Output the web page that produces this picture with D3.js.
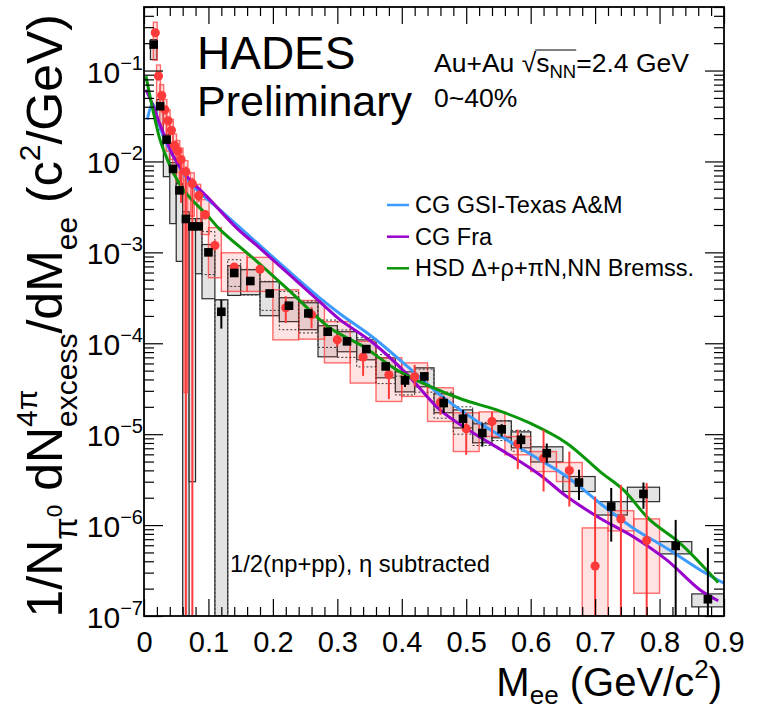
<!DOCTYPE html>
<html>
<head>
<meta charset="utf-8">
<script src="https://cdn.jsdelivr.net/npm/d3@7"></script>
<style>
  body { margin: 0; background: #fff; }
  svg { display: block; }
  text { font-family: "Liberation Sans", Arial, Helvetica, sans-serif; fill: #000; }
</style>
</head>
<body>
<svg id="chart" width="761" height="711"></svg>
<script>
// ---------------- data ----------------
// HADES excess spectrum (black squares): bin centres, bin edges, values, stat and syst errors
const blackX = [0.015,0.025,0.035,0.045,0.055,0.065,0.075,0.085,0.10,0.12,0.14,0.165,0.195,0.225,0.255,0.285,0.315,0.345,0.375,0.405,0.435,0.465,0.495,0.525,0.555,0.585,0.625,0.675,0.725,0.775,0.825,0.875];
const blackEdges = [0.01,0.02,0.03,0.04,0.05,0.06,0.07,0.08,0.09,0.11,0.13,0.15,0.18,0.21,0.24,0.27,0.30,0.33,0.36,0.39,0.42,0.45,0.48,0.51,0.54,0.57,0.60,0.65,0.70,0.75,0.80,0.85,0.90];
const blackY = [0.193,0.0405,0.0174,0.00828,0.00481,0.00233,0.00193,0.00193,0.00100,2.22e-4,5.93e-4,4.84e-4,3.53e-4,2.59e-4,2.13e-4,1.34e-4,1.05e-4,8.63e-5,5.56e-5,3.90e-5,4.32e-5,2.20e-5,1.48e-5,1.03e-5,1.13e-5,8.67e-6,6.18e-6,2.94e-6,1.60e-6,2.20e-6,5.90e-7,1.53e-7];
const blackStatHi = [0.205,0.043,0.0184,0.0088,0.0051,0.00248,0.00205,0.00205,0.00106,3.01e-4,6.3e-4,5.1e-4,3.75e-4,2.75e-4,2.3e-4,1.44e-4,1.13e-4,9.5e-5,6.0e-5,4.5e-5,4.8e-5,2.6e-5,1.85e-5,1.32e-5,1.29e-5,1.02e-5,7.9e-6,4.05e-6,2.56e-6,2.94e-6,1.14e-6,5.61e-7];
const blackStatLo = [0.181,0.038,0.0164,0.0078,0.0045,0.00218,0.00181,0.00181,0.00094,1.45e-4,5.6e-4,4.6e-4,3.3e-4,2.45e-4,1.95e-4,1.24e-4,9.7e-5,7.8e-5,5.1e-5,3.3e-5,3.8e-5,1.71e-5,1.16e-5,7.3e-6,9.4e-6,6.9e-6,4.8e-6,1.89e-6,6.58e-7,1.51e-6,1e-8,1e-8];
const blackSysHi = [0.219,0.048,0.0198,0.0097,0.0057,0.0028,0.00235,0.00235,0.00122,3.01e-4,7.13e-4,6.44e-4,4.75e-4,3.17e-4,2.79e-4,1.56e-4,1.34e-4,1.09e-4,6.92e-5,4.85e-5,5.37e-5,2.78e-5,1.85e-5,1.30e-5,1.40e-5,1.06e-5,7.26e-6,3.42e-6,1.81e-6,2.61e-6,6.58e-7,1.75e-7];
const blackSysLo = [0.132,0.0224,0.0068,0.00207,7.96e-4,1e-8,3.0e-6,5.82e-4,3.09e-4,1e-8,3.36e-4,3.42e-4,2.01e-4,1.73e-4,1.41e-4,7.1e-5,8.07e-5,6.58e-5,4.17e-5,2.92e-5,3.32e-5,1.72e-5,1.17e-5,8.04e-6,9.12e-6,7.08e-6,4.95e-6,2.34e-6,1.29e-6,1.81e-6,4.82e-7,1.26e-7];
// second systematic band (dotted), null where not shown
const blackDotHi = [null,null,null,null,null,null,null,null,1.69e-3,3.0e-4,8.3e-4,6.5e-4,4.8e-4,3.72e-4,2.9e-4,1.8e-4,1.4e-4,1.15e-4,7.5e-5,4.35e-5,5.2e-5,2.9e-5,2.0e-5,1.35e-5,1.4e-5,1.1e-5,null,null,null,null,null,null];
const blackDotLo = [null,null,null,null,null,null,null,null,5.7e-4,1e-8,4.22e-4,3.4e-4,2.3e-4,1.41e-4,1.3e-4,9.0e-5,7.0e-5,5.5e-5,3.6e-5,2.7e-5,2.9e-5,1.5e-5,1.0e-5,7.5e-6,8.5e-6,6.5e-6,null,null,null,null,null,null];

// reference spectrum (red circles)
const redX = [0.0175,0.0225,0.0275,0.0325,0.0375,0.0425,0.0475,0.0525,0.0575,0.065,0.075,0.085,0.095,0.11,0.14,0.18,0.22,0.26,0.30,0.34,0.38,0.42,0.46,0.50,0.54,0.58,0.62,0.66,0.70,0.74,0.78];
const redHalfWidth = [0.003,0.003,0.003,0.003,0.003,0.003,0.003,0.003,0.003,0.003,0.003,0.003,0.006,0.01,0.02,0.02,0.02,0.02,0.02,0.02,0.02,0.02,0.02,0.02,0.02,0.02,0.02,0.02,0.02,0.02,0.02];
const redY = [0.26,0.087,0.053,0.037,0.028,0.022,0.015,0.013,0.0105,0.0077,0.0057,0.0042,0.0026,0.00119,6.9e-4,6.5e-4,2.46e-4,2.06e-4,1.09e-4,7.05e-5,4.5e-5,4.27e-5,2.25e-5,1.15e-5,1.38e-5,7.84e-6,5.45e-6,3.98e-6,3.55e-7,1.17e-6,6.75e-7];
const redStatHi = [0.29,0.096,0.058,0.041,0.031,0.0245,0.0167,0.0145,0.0118,0.0088,0.0066,0.0048,0.0029,0.00135,7.6e-4,7.2e-4,3.3e-4,2.5e-4,1.25e-4,7.7e-5,4.9e-5,5.8e-5,2.6e-5,1.71e-5,1.77e-5,1.12e-5,1.12e-5,6.44e-6,2.06e-6,2.77e-6,2.9e-6];
const redStatLo = [0.235,0.079,0.048,0.033,0.025,0.0198,0.0135,0.0117,0.0035,1e-8,1e-8,0.0036,0.0023,0.00105,6.2e-4,5.8e-4,1.67e-4,1.46e-4,9.2e-5,4.38e-5,2.43e-5,3.35e-5,1.63e-5,5.93e-6,9.42e-6,4.12e-6,2.34e-6,1.6e-6,1e-8,1e-8,1e-8];
const redSysHi = [0.34,0.115,0.07,0.048,0.037,0.029,0.02,0.017,0.014,0.0102,0.0075,0.0056,0.0038,0.00187,9.9e-4,8.81e-4,3.88e-4,2.96e-4,1.73e-4,1.05e-4,6.92e-5,6.09e-5,3.24e-5,1.72e-5,1.76e-5,9.42e-6,6.44e-6,4.88e-6,9.31e-7,1.44e-6,1.17e-6];
const redSysLo = [0.13,0.042,0.026,0.018,0.013,0.0105,0.0072,0.006,0.0045,2.87e-5,0.0025,0.0019,0.00157,5.26e-4,3.72e-4,3.72e-4,1.09e-4,1.11e-4,6.09e-5,3.65e-5,2.29e-5,2.6e-5,1.38e-5,6.44e-6,9.42e-6,5.93e-6,3.88e-6,3.01e-6,1e-8,8.63e-7,1.78e-7];

// model curves
const blueX = [0.0051,0.0132,0.0197,0.03,0.0455,0.0714,0.1226,0.175,0.2266,0.278,0.304,0.356,0.4077,0.4593,0.511,0.5628,0.6145,0.656,0.7076,0.7593,0.811,0.863,0.9];
const blueY = [0.0289,0.0434,0.0314,0.0189,0.0114,0.0058,0.00274,1.28e-3,6.05e-4,2.94e-4,2.11e-4,1.15e-4,5.65e-5,2.71e-5,1.48e-5,8.67e-6,5.21e-6,3.42e-6,1.74e-6,9.25e-7,5.56e-7,3.21e-7,2.29e-7];
const purpleX = [0.0031,0.0144,0.0248,0.0352,0.0455,0.0663,0.0973,0.1439,0.175,0.2266,0.278,0.304,0.356,0.4077,0.4593,0.511,0.5628,0.6145,0.656,0.7076,0.7593,0.811,0.863,0.891];
const purpleY = [0.0618,0.0405,0.0255,0.0167,0.0114,0.00687,0.00413,0.00185,1.19e-3,5.61e-4,2.65e-4,1.82e-4,1.0e-4,4.61e-5,1.85e-5,1.03e-5,6.18e-6,3.56e-6,2.06e-6,1.19e-6,7.46e-7,4.14e-7,1.93e-7,1.47e-7];
const greenX = [0.0031,0.0093,0.0171,0.0248,0.0352,0.0455,0.061,0.0765,0.0973,0.118,0.175,0.2266,0.2886,0.3403,0.3921,0.4438,0.4955,0.5473,0.599,0.656,0.7076,0.744,0.785,0.832,0.891];
const greenY = [0.0865,0.0521,0.0289,0.0174,0.01094,0.00748,0.0049,0.00364,0.0026,0.00178,7.96e-4,3.72e-4,1.47e-4,9.23e-5,5.1e-5,3.35e-5,2.39e-5,1.85e-5,1.32e-5,7.96e-6,3.88e-6,2.44e-6,1.14e-6,6.31e-7,2.33e-7];

const legendLabels = ["CG GSI-Texas A&M", "CG Fra", "HSD \u0394+\u03c1+\u03c0N,NN Bremss."];
const xTickValues = [0,0.1,0.2,0.3,0.4,0.5,0.6,0.7,0.8,0.9];
const yDecades = [-7,-6,-5,-4,-3,-2,-1];

// ---------------- layout ----------------
const X0 = 144, X1 = 724, Y0 = 7, Y1 = 616;
const FONT = '"Liberation Sans", Arial, Helvetica, sans-serif';
const svg = d3.select("#chart");
const x = d3.scaleLinear().domain([0, 0.9]).range([X0, X1]);
const y = d3.scaleLog().domain([1e-7, 0.5]).range([Y1, Y0]).clamp(true);

svg.append("defs").append("clipPath").attr("id", "plotclip")
  .append("rect").attr("x", X0).attr("y", Y0).attr("width", X1 - X0).attr("height", Y1 - Y0);
const plot = svg.append("g").attr("clip-path", "url(#plotclip)");

const idx = d3.range(blackX.length);
const ridx = d3.range(redX.length);

// grey systematic boxes
plot.append("g").selectAll("rect").data(idx).join("rect")
  .attr("x", i => x(blackEdges[i]))
  .attr("width", i => x(blackEdges[i + 1]) - x(blackEdges[i]))
  .attr("y", i => y(blackSysHi[i]))
  .attr("height", i => y(blackSysLo[i]) - y(blackSysHi[i]))
  .attr("fill", "#e3e3e3").attr("stroke", "#2a2a2a").attr("stroke-width", 1.2);

// red systematic boxes
plot.append("g").selectAll("rect").data(ridx).join("rect")
  .attr("x", i => x(redX[i] - redHalfWidth[i]))
  .attr("width", i => x(redX[i] + redHalfWidth[i]) - x(redX[i] - redHalfWidth[i]))
  .attr("y", i => y(redSysHi[i]))
  .attr("height", i => y(redSysLo[i]) - y(redSysHi[i]))
  .attr("fill", "rgba(255,60,60,0.14)").attr("stroke", "rgba(255,60,60,0.75)").attr("stroke-width", 1.4);

// dotted boxes
plot.append("g").selectAll("rect").data(idx.filter(i => blackDotHi[i] !== null)).join("rect")
  .attr("x", i => x(blackEdges[i]))
  .attr("width", i => x(blackEdges[i + 1]) - x(blackEdges[i]))
  .attr("y", i => y(blackDotHi[i]))
  .attr("height", i => y(blackDotLo[i]) - y(blackDotHi[i]))
  .attr("fill", "none").attr("stroke", "#333").attr("stroke-width", 1).attr("stroke-dasharray", "2,2");

// model curves
const curves = [
  { xs: blueX, ys: blueY, color: "#3d9bff" },
  { xs: purpleX, ys: purpleY, color: "#9a00cc" },
  { xs: greenX, ys: greenY, color: "#0a960a" }
];
const line = d3.line().x(d => x(d[0])).y(d => y(d[1])).curve(d3.curveCatmullRom.alpha(0.5));
curves.forEach(c => {
  plot.append("path").datum(c.xs.map((v, i) => [v, c.ys[i]]))
    .attr("d", line).attr("fill", "none").attr("stroke", c.color)
    .attr("stroke-width", 3).attr("stroke-linejoin", "round");
});

// red points
plot.append("g").selectAll("line").data(ridx).join("line")
  .attr("x1", i => x(redX[i])).attr("x2", i => x(redX[i]))
  .attr("y1", i => y(redStatHi[i])).attr("y2", i => y(redStatLo[i]))
  .attr("stroke", "#ff3a3a").attr("stroke-width", 2);
plot.append("g").selectAll("circle").data(ridx).join("circle")
  .attr("cx", i => x(redX[i])).attr("cy", i => y(redY[i])).attr("r", 4.6)
  .attr("fill", "#ff3a3a");

// black points
plot.append("g").selectAll("line").data(idx).join("line")
  .attr("x1", i => x(blackX[i])).attr("x2", i => x(blackX[i]))
  .attr("y1", i => y(blackStatHi[i])).attr("y2", i => y(blackStatLo[i]))
  .attr("stroke", "#000").attr("stroke-width", 2);
plot.append("g").selectAll("rect").data(idx).join("rect")
  .attr("x", i => x(blackX[i]) - 4.3).attr("y", i => y(blackY[i]) - 4.3)
  .attr("width", 8.6).attr("height", 8.6).attr("fill", "#000");

// ---------------- axes ----------------
const xMinor = d3.range(0, 0.9001, 0.02).filter(v => xTickValues.every(t => Math.abs(t - v) > 1e-6));
const yMinor = [];
yDecades.forEach(d => { for (let k = 2; k <= 9; k++) { const v = k * Math.pow(10, d); if (v <= 0.5) yMinor.push(v); } });
const yMajor = yDecades.map(d => Math.pow(10, d));

function styleAxis(g) {
  g.select(".domain").remove();
  g.selectAll(".tick line").attr("stroke", "#000").attr("stroke-width", 1.2);
}
svg.append("g").attr("transform", `translate(0,${Y1})`)
  .call(d3.axisBottom(x).tickValues(xTickValues).tickSize(-17).tickPadding(8).tickFormat(d3.format("~g")))
  .call(styleAxis)
  .call(g => g.selectAll("text").attr("font-family", FONT).attr("font-size", 29).attr("fill", "#000").attr("dy", "0.95em"));
svg.append("g").attr("transform", `translate(0,${Y1})`)
  .call(d3.axisBottom(x).tickValues(xMinor).tickSize(-9).tickFormat(""))
  .call(styleAxis);
svg.append("g").attr("transform", `translate(0,${Y0})`)
  .call(d3.axisTop(x).tickValues(xTickValues).tickSize(-17).tickFormat(""))
  .call(styleAxis);
svg.append("g").attr("transform", `translate(0,${Y0})`)
  .call(d3.axisTop(x).tickValues(xMinor).tickSize(-9).tickFormat(""))
  .call(styleAxis);
svg.append("g").attr("transform", `translate(${X0},0)`)
  .call(d3.axisLeft(y).tickValues(yMajor).tickSize(-19).tickFormat(""))
  .call(styleAxis);
svg.append("g").attr("transform", `translate(${X0},0)`)
  .call(d3.axisLeft(y).tickValues(yMinor).tickSize(-10).tickFormat(""))
  .call(styleAxis);
svg.append("g").attr("transform", `translate(${X1},0)`)
  .call(d3.axisRight(y).tickValues(yMajor).tickSize(-19).tickFormat(""))
  .call(styleAxis);
svg.append("g").attr("transform", `translate(${X1},0)`)
  .call(d3.axisRight(y).tickValues(yMinor).tickSize(-10).tickFormat(""))
  .call(styleAxis);

// frame
svg.append("rect").attr("x", X0).attr("y", Y0).attr("width", X1 - X0).attr("height", Y1 - Y0)
  .attr("fill", "none").attr("stroke", "#000").attr("stroke-width", 1.8);

// y tick labels 10^n
yDecades.forEach(d => {
  const t = svg.append("text").attr("x", 143).attr("y", y(Math.pow(10, d)) + 12)
    .attr("text-anchor", "end").attr("font-size", 30);
  t.append("tspan").text("10");
  t.append("tspan").attr("font-size", 20).attr("dy", -13).text("\u2212" + Math.abs(d));
});

// rich text helper: parts with scale s and baseline shift b (in em of base size, up positive)
function rich(parent, size, parts, opts) {
  const t = parent.append("text").attr("font-size", size).attr("text-anchor", opts.anchor || "start");
  if (opts.rotate) t.attr("transform", `translate(${opts.x},${opts.y}) rotate(${opts.rotate})`);
  else t.attr("x", opts.x).attr("y", opts.y);
  let cur = 0, prevW = 0;
  parts.forEach(p => {
    const sh = p.b || 0;
    const ts = t.append("tspan").attr("font-size", size * (p.s || 1))
      .attr("dy", (cur - sh) * size).text(p.t);
    if (p.back) ts.attr("dx", -prevW);
    cur = sh;
    prevW = ts.node().getComputedTextLength();
  });
  return t;
}

// axis titles
rich(svg, 40, [
  { t: "M" }, { t: "ee", s: 0.65, b: -0.2 }, { t: " (GeV/c" }, { t: "2", s: 0.65, b: 0.45 }, { t: ")" }
], { x: 722, y: 696, anchor: "end" });

rich(svg, 50, [
  { t: "1/N" }, { t: "\u03c0", s: 0.65, b: -0.3 }, { t: "0", s: 0.45, b: 0.0 },
  { t: " dN" }, { t: "4\u03c0", s: 0.6, b: 0.5 }, { t: "excess", s: 0.6, b: -0.3, back: true },
  { t: "/dM" }, { t: "ee", s: 0.6, b: -0.3 }, { t: " (c" }, { t: "2", s: 0.6, b: 0.45 }, { t: "/GeV)" }
], { x: 62, y: 14, anchor: "end", rotate: -90 });

// labels
svg.append("text").attr("x", 197).attr("y", 69).attr("font-size", 46).text("HADES");
svg.append("text").attr("x", 197).attr("y", 116).attr("font-size", 43).text("Preliminary");

const sys = svg.append("text").attr("x", 434).attr("y", 72).attr("font-size", 26.5);
sys.append("tspan").text("Au+Au ");
sys.append("tspan").text("\u221a");
sys.append("tspan").text("s");
sys.append("tspan").attr("font-size", 18.5).attr("dy", 6).text("NN");
sys.append("tspan").attr("dy", -6).text("=2.4 GeV");
{
  const n = sys.node();
  const r = n.getExtentOfChar(6), e = n.getExtentOfChar(9);
  svg.append("line").attr("x1", r.x + r.width - 1).attr("x2", e.x + e.width)
    .attr("y1", r.y + 2).attr("y2", r.y + 2).attr("stroke", "#000").attr("stroke-width", 1.2);
}
svg.append("text").attr("x", 434).attr("y", 107).attr("font-size", 26.5).text("0~40%");

svg.append("text").attr("x", 230).attr("y", 572).attr("font-size", 23.8).text("1/2(np+pp), \u03b7 subtracted");

// legend
const legY = [205, 236.7, 268.3];
curves.forEach((c, i) => {
  svg.append("line").attr("x1", 387).attr("x2", 409).attr("y1", legY[i]).attr("y2", legY[i])
    .attr("stroke", c.color).attr("stroke-width", 2.5);
  svg.append("text").attr("x", 415).attr("y", legY[i] + 8).attr("font-size", 23.5).text(legendLabels[i]);
});
</script>
</body>
</html>
